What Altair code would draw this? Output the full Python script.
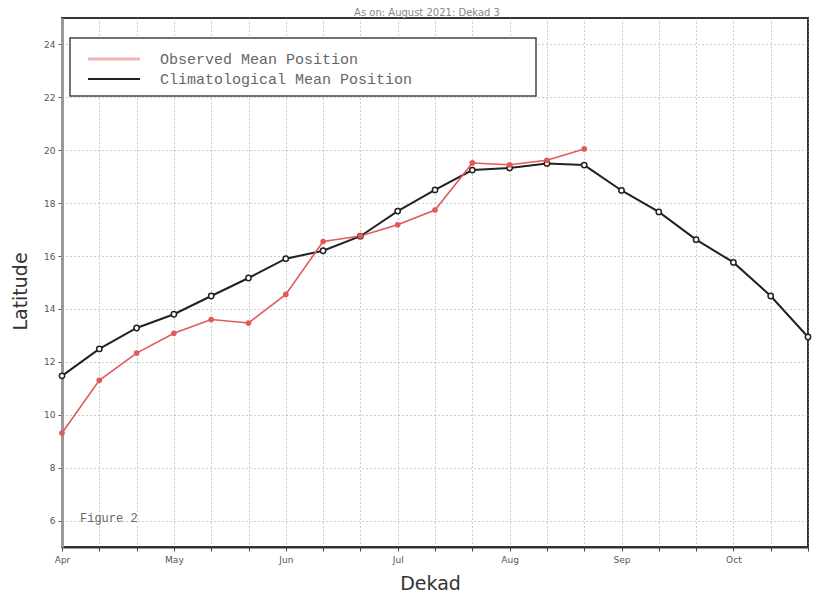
import altair as alt
import pandas as pd

# ---- data ----
months = ["Apr", "May", "Jun", "Jul", "Aug", "Sep", "Oct"]
clim_dekad = list(range(21))
clim_lat = [11.47, 12.49, 13.28, 13.8, 14.49, 15.17, 15.9, 16.2, 16.75, 17.7, 18.5,
            19.25, 19.33, 19.5, 19.44, 18.48, 17.67, 16.62, 15.76, 14.49, 12.94]
obs_dekad = list(range(15))
obs_lat = [9.31, 11.3, 12.33, 13.08, 13.6, 13.47, 14.55, 16.55, 16.76, 17.18, 17.74,
           19.52, 19.45, 19.62, 20.05]
y_ticks = [6, 8, 10, 12, 14, 16, 18, 20, 22, 24]
title_text = "As on: August 2021: Dekad 3"
legend_labels = ["Observed Mean Position", "Climatological Mean Position"]

clim_df = pd.DataFrame({"dekad": clim_dekad, "lat": clim_lat})
obs_df = pd.DataFrame({"dekad": obs_dekad, "lat": obs_lat})
one = pd.DataFrame({"a": [0]})

W, H = 746, 529
RED = "#e05a5a"
FONT = "DejaVu Sans"
MONO = "Liberation Mono"

label_expr = (
    "datum.value % 3 == 0 ? " + str(months) + "[datum.value / 3] : ''"
)

x_scale = alt.Scale(domain=[0, 20], nice=False, zero=False)
y_scale = alt.Scale(domain=[5, 25], nice=False, zero=False)

x_axis = alt.Axis(
    values=list(range(21)), labelExpr=label_expr, title="Dekad",
    labelOverlap=False,
    grid=True, gridDash=[1, 3], gridColor="#999", gridWidth=1,
    tickSize=4, tickColor="#444", labelFontSize=9, labelColor="#555", labelFont=FONT,
    labelPadding=4, labelFlush=False,
    domainColor="#333", domainWidth=2,
    titleFontSize=19, titleFont=FONT, titleFontWeight="normal", titleColor="#333",
    titleX=368, titleY=36, titleBaseline="middle",
)
y_axis = alt.Axis(
    values=y_ticks, title="Latitude", labelOverlap=False,
    grid=True, gridDash=[1, 3], gridColor="#999", gridWidth=1,
    tickSize=4, tickColor="#555", labelFontSize=9, labelColor="#555", labelFont=FONT,
    labelPadding=3, domainColor="#999", domainWidth=3,
    titleFontSize=19, titleFont=FONT, titleFontWeight="normal", titleColor="#333",
    titleX=-42, titleY=273, titleBaseline="middle", titleAngle=270,
)

X = alt.X("dekad:Q", scale=x_scale, axis=x_axis)
Y = alt.Y("lat:Q", scale=y_scale, axis=y_axis)

clim_line = alt.Chart(clim_df).mark_line(color="#222", strokeWidth=2).encode(x=X, y=Y)
clim_pts = alt.Chart(clim_df).mark_point(
    shape="circle", filled=True, fill="white", stroke="#222", strokeWidth=1.5, size=28, opacity=1
).encode(x=X, y=Y)

obs_line = alt.Chart(obs_df).mark_line(color=RED, strokeWidth=1.6).encode(x=X, y=Y)
obs_pts = alt.Chart(obs_df).mark_point(
    shape="circle", filled=True, color=RED, size=32, opacity=1
).encode(x=X, y=Y)

# legend box
leg_box = alt.Chart(one).mark_rect(fill="white", stroke="#444", strokeWidth=1.5).encode(
    x=alt.value(8), x2=alt.value(474), y=alt.value(20), y2=alt.value(78)
)
leg_red = alt.Chart(one).mark_rule(color="#f0b4b4", strokeWidth=3).encode(
    x=alt.value(26), x2=alt.value(78), y=alt.value(41)
)
leg_black = alt.Chart(one).mark_rule(color="#222", strokeWidth=1.8).encode(
    x=alt.value(26), x2=alt.value(78), y=alt.value(61)
)
leg_t1 = alt.Chart(one).mark_text(
    align="left", baseline="middle", font=MONO, fontSize=15, color="#666"
).encode(x=alt.value(98), y=alt.value(41), text=alt.value(legend_labels[0]))
leg_t2 = alt.Chart(one).mark_text(
    align="left", baseline="middle", font=MONO, fontSize=15, color="#666"
).encode(x=alt.value(98), y=alt.value(61), text=alt.value(legend_labels[1]))

fig_label = alt.Chart(one).mark_text(
    align="left", baseline="middle", font=MONO, fontSize=12, color="#666"
).encode(x=alt.value(18), y=alt.value(500), text=alt.value("Figure 2"))

title = alt.Chart(one).mark_text(
    align="center", baseline="alphabetic", font=FONT, fontSize=10, color="#888"
).encode(x=alt.value(365), y=alt.value(-2), text=alt.value(title_text))

chart = alt.layer(
    clim_line, obs_line, clim_pts, obs_pts,
    leg_box, leg_red, leg_black, leg_t1, leg_t2, fig_label, title,
).properties(
    width=W, height=H,
    autosize=alt.AutoSizeParams(type="none"),
    padding={"left": 54, "top": 10, "right": 4, "bottom": 52},
    background="white",
).configure_view(
    stroke="#333", strokeWidth=2
).configure_axis(labelOverlap=False)

chart.save("out.html", embed_options={"renderer": "svg", "actions": False})
